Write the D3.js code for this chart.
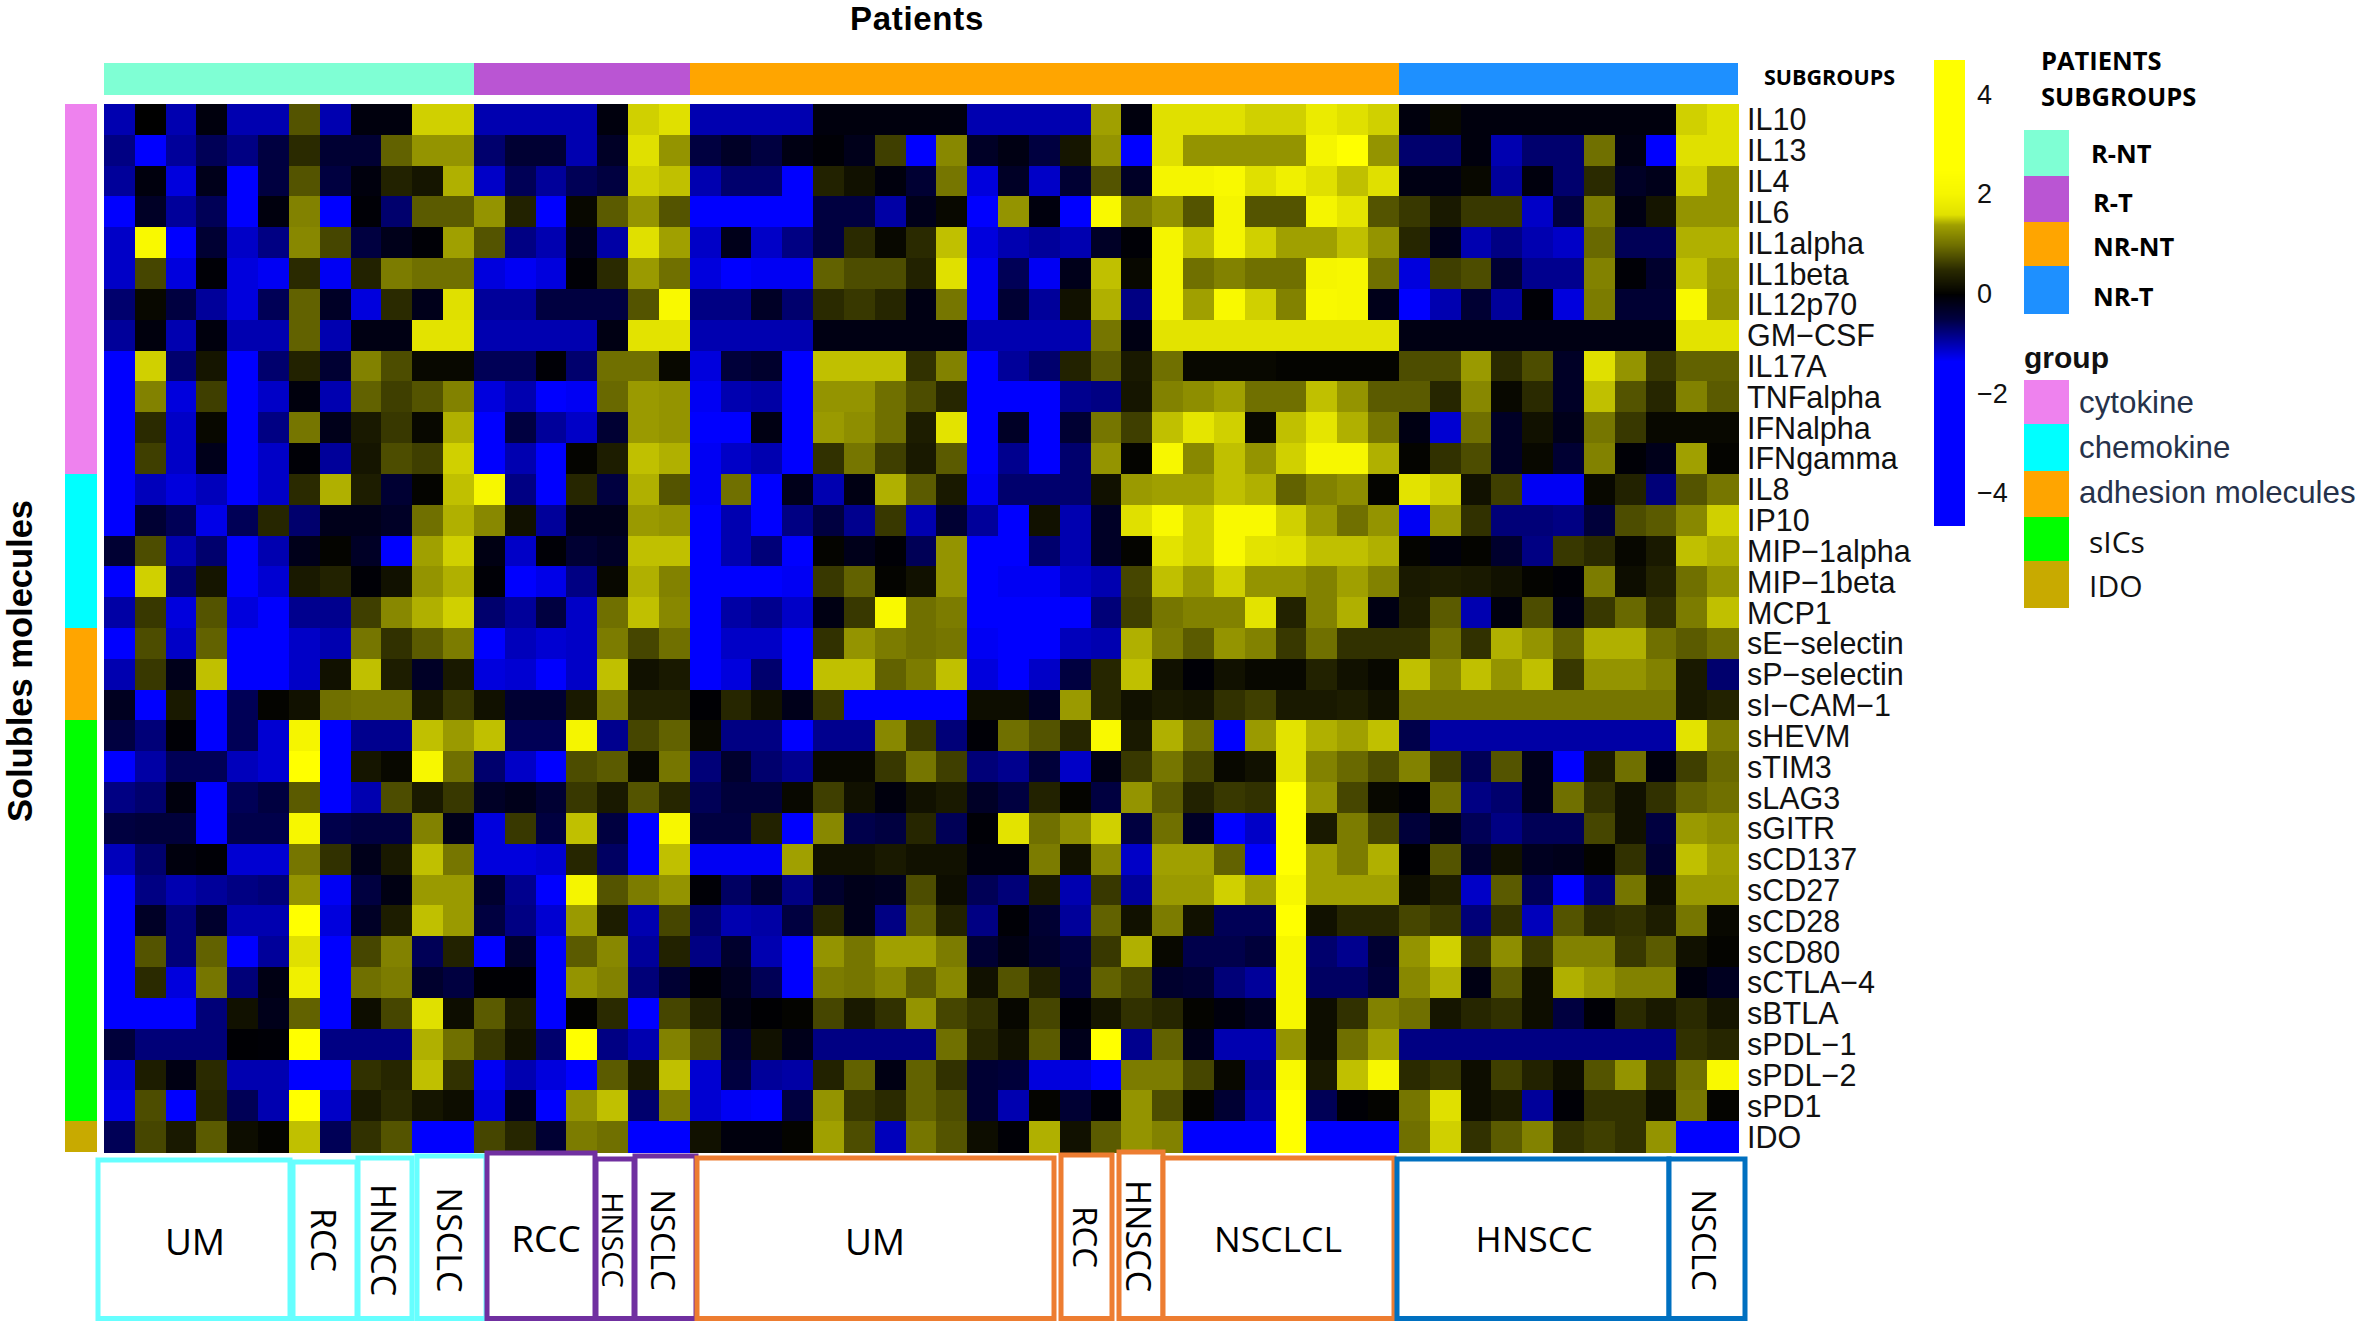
<!DOCTYPE html>
<html><head><meta charset="utf-8">
<script src="https://cdn.jsdelivr.net/npm/d3@7"></script>
<style>html,body{margin:0;padding:0;background:#fff}svg{display:block}</style>
</head><body><svg id="c" width="2362" height="1321"></svg>
<script>
const molecules=["IL10","IL13","IL4","IL6","IL1alpha","IL1beta","IL12p70","GM−CSF","IL17A","TNFalpha","IFNalpha","IFNgamma","IL8","IP10","MIP−1alpha","MIP−1beta","MCP1","sE−selectin","sP−selectin","sI−CAM−1","sHEVM","sTIM3","sLAG3","sGITR","sCD137","sCD27","sCD28","sCD80","sCTLA−4","sBTLA","sPDL−1","sPDL−2","sPD1","IDO"];
const values=[
[-1,0,-1,-.1,-1,-1,.8,-1,-.1,-.1,1.55,1.55, -1,-1,-1,-1,-.1,1.55,1.6, -1,-1,-1,-1,-.1,-.1,-.1,-.1,-.1,-1,-1,-1,-1,1.4,-.1,1.6,1.6,1.6,1.55,1.55,1.8,1.6,1.55, -.1,.1,-.1,-.1,-.1,-.1,-.1,-.1,-.1,1.55,1.6],
[-.8,-1.4,-.9,-.6,-.8,-.5,.5,-.4,-.4,.9,1.3,1.3, -.7,-.4,-.4,-1,-.3,1.6,1.3, -.5,-.3,-.5,-.15,-.05,-.2,.65,-1.4,1.2,-.3,-.15,-.5,.25,1.3,-1.4,1.6,1.3,1.3,1.3,1.3,2,2.5,1.3, -.7,-.7,-.1,-1,-.7,-.7,1,-.15,-1.4,1.6,1.6],
[-.9,-.1,-1.2,-.2,-1.4,-.5,.8,-.5,-.1,.4,.25,1.45, -1.1,-.6,-.9,-.6,-.5,1.55,1.5, -1,-.7,-.7,-1.4,.4,.2,-.1,-.4,1.05,-1.2,-.3,-1.1,-.4,.8,-.3,2,2,2.2,1.6,1.9,1.6,1.5,1.6, -.15,-.15,.1,-.9,-.1,-.7,.5,-.3,-.2,1.55,1.3],
[-1.4,-.3,-.9,-.6,-1.4,-.1,1.15,-1.4,-.05,-.7,.85,.85, 1.3,.4,-1.4,.1,.85,1.3,.8, -1.4,-1.4,-1.4,-1.4,-.5,-.5,-.95,-.2,.1,-1.4,1.3,-.1,-1.4,2.2,1.1,1.3,.8,2,.8,.8,2,1.7,.8, .6,.3,.6,.6,-1.1,-.5,1.1,-.15,.25,1.3,1.3],
[-1.1,2.2,-1.4,-.4,-1.1,-.8,1.2,.7,-.5,-.2,-.05,1.4, .8,-.8,-1,-.2,-.95,1.6,1.4, -1.1,-.2,-1.1,-.8,-.5,.5,.1,.5,1.5,-1.2,-1,-.9,-1,-.3,-.05,2,1.5,2,1.55,1.4,1.4,1.5,1.3, .45,-.2,-1,-.8,-1,-1.1,.95,-.6,-.6,1.45,1.45],
[-1.1,.7,-1.2,-.05,-1.2,-1.3,.5,-1.3,.4,1.1,1,1, -1.2,-1.3,-1.2,-.05,.5,1.35,1, -1.2,-1.4,-1.3,-1.3,.9,.75,.75,.4,1.6,-1.3,-.6,-1.3,-.2,1.5,.1,2,1,1.15,1,1,2,2.1,1, -1.2,.65,.75,-.4,-.85,-.85,1.15,-.05,-.35,1.5,1.35],
[-.7,.1,-.5,-.9,-1.2,-.6,.9,-.3,-1.2,.5,-.2,1.6, -.9,-.9,-.5,-.5,-.5,.8,2.2, -.8,-.8,-.3,-.7,.5,.6,.45,-.15,1.05,-1.3,-.4,-.9,.2,1.45,-.8,2,1.4,2.2,1.55,1.15,2.2,2.1,-.2, -1.4,-1,-.4,-.9,-.05,-1.2,1.1,-.4,-.4,2.2,1.3],
[-.9,-.1,-1,-.1,-1,-1,.9,-1,-.15,-.15,1.65,1.65, -1,-1,-1,-1,-.15,1.65,1.65, -1,-1,-1,-1,-.15,-.15,-.15,-.15,-.15,-1,-1,-1,-1,1.05,-.15,1.65,1.65,1.65,1.65,1.65,1.65,1.65,1.65, -.15,-.15,-.15,-.15,-.15,-.15,-.15,-.15,-.15,1.65,1.65],
[-1.4,1.55,-.7,.25,-1.4,-.7,.4,-.4,1.15,.75,.1,.1, -.6,-.6,-.05,-.7,1,1,.1, -1.2,-.45,-.35,-1.4,1.5,1.5,1.5,.55,1.15,-1.4,-.9,-.7,.4,.85,.3,1,.1,.1,.1,.05,.05,.05,.05, .75,.75,1.35,.5,.75,-.3,1.6,1.3,.6,.9,.9],
[-1.4,1.15,-1.2,.65,-1.4,-1.1,-.1,-1,.9,.65,.8,1.15, -1.2,-1,-1.4,-1.3,.95,1.35,1.3, -1.3,-1,-.95,-1.4,1.3,1.3,1,.75,.45,-1.4,-1.4,-1.4,-.85,-.8,.25,1.15,1.25,1.4,1,1,1.5,1.3,.85, .85,.45,1.2,.1,.5,-.3,1.5,.8,.45,1.15,.85],
[-1.4,.5,-1.1,.1,-1.4,-.8,1.05,-.2,.3,.6,.1,1.45, -1.4,-.5,-.9,-1.1,-.4,1.35,1.3, -1.4,-1.4,-.15,-1.4,1.35,1.25,1,.35,1.65,-1.4,-.3,-1.4,-.4,1.05,.65,1.5,1.7,1.55,.1,1.5,1.7,1.45,1.05, -.15,-1.15,1,-.3,.2,-.2,1.05,.6,.1,.1,.1],
[-1.4,.65,-1.1,-.2,-1.4,-1.1,-.05,-.9,.25,.75,.65,1.55, -1.4,-1,-1.4,.05,.35,1.5,1.45, -1.3,-1.1,-1,-1.4,.55,1.05,.65,.3,.85,-1.4,-.85,-1.4,-.7,1.3,.05,2.1,1.2,1.5,1.3,1.55,2.1,2.1,1.45, .05,.55,.75,-.3,.1,-.4,1.15,-.05,-.2,1.4,.05],
[-1.4,-1.05,-1.2,-1.05,-1.4,-1.1,.5,1.45,.35,-.4,.05,1.5, 2.1,-.8,-1.4,.45,-.5,1.45,.8, -1.3,1,-1.4,-.2,-1,-.15,1.45,.85,.3,-1.3,-.7,-.7,-.7,.2,1.35,1.4,1.4,1.5,1.45,.9,1.15,1.25,.05, 1.65,1.55,.2,.65,-1.3,-1.3,.1,.4,-.75,.8,1.05],
[-1.4,-.4,-.6,-1.25,-.6,.45,-.7,-.2,-.2,-.3,1,1.45, 1.2,.2,-.9,-.2,-.2,1.35,1.3, -1.4,-1,-1.4,-.8,-.5,-.85,.6,-1,-.4,-.9,-1.4,.2,-1,-.3,1.6,2.2,1.55,2.2,2.2,1.55,1.35,1,1.3, -1.3,1.35,.55,-.75,-.75,-.8,-.45,.75,.85,1.2,1.55],
[-.4,.75,-1,-.7,-1.4,-1,-.2,.05,-.3,-1.4,1.4,1.55, -.15,-1.1,-.05,-.4,-.3,1.5,1.5, -1.4,-1,-.75,-1.4,.05,-.2,-.05,-.6,1.3,-1.4,-1.4,-.7,-1,-.3,.05,1.65,1.55,2.2,1.65,1.6,1.5,1.5,1.45, .05,-.1,.05,-.35,-.8,.6,.5,.08,.3,1.5,1.45],
[-1.4,1.55,-.7,.25,-1.4,-1.15,.3,.4,-.05,.2,1.3,1.45, -.05,-1.35,-1.25,-.8,.1,1.45,1.15, -1.4,-1.35,-1.4,-1.3,.6,.9,.05,.2,1.3,-1.4,-1.3,-1.3,-1.1,-1,.7,1.5,1.35,1.55,1.3,1.3,1.15,1.4,1.15, .3,.35,.3,.2,.05,-.05,1.1,.15,.4,1,1.3],
[-.95,.6,-1.2,.8,-1.2,-1.4,-.85,-.85,.65,1.2,1.45,1.55, -.7,-.9,-.5,-1.1,1,1.5,1.2, -1.4,-.95,-.85,-1.1,-.15,.6,2.2,1,1.1,-1.4,-1.4,-1.4,-1.4,-.75,.65,1.05,1.15,1.15,1.65,.4,1.15,1.45,-.15, .35,.85,-1,-.1,.75,-.15,.6,.95,.55,1.1,1.5],
[-1.4,.75,-1.1,.9,-1.4,-1.35,-1.1,-1,1.05,.55,.85,1.1, -1.4,-1.05,-1.15,-1.1,1.1,.7,1, -1.4,-1.1,-1.1,-1.4,.55,1.3,1.1,1,1.05,-1.3,-1.35,-1.35,-1.05,-1,1.45,1.1,.85,1.3,1.15,.6,1,.55,.55, .55,1,.55,1.45,1.3,.9,1.45,1.45,1,.85,1],
[-1,.6,-.2,1.5,-1.4,-1.4,-1.1,.2,1.5,.35,-.3,.3, -1.2,-1.15,-1.4,-1.1,1.5,.2,.3, -1.4,-1.2,-.7,-1.4,1.5,1.5,.9,1.1,1.5,-1.2,-1.4,-1.1,-.5,.45,1.5,.2,-.05,.2,.1,.1,.4,.2,.1, 1.5,1.2,1.5,1.3,1.5,.6,1.3,1.3,1.15,.3,-.7],
[-.25,-1.4,.3,-1.4,-.6,.05,.2,1,1.05,1.05,.3,.6, .2,-.4,-.4,.3,1.1,.4,.4, -.03,.45,.2,-.2,.6,-1.4,-1.4,-1.4,-1.4,.15,.15,-.3,1.35,.45,.2,.3,.25,.55,.65,.3,.3,.35,.2, 1.05,1.05,1.05,1.05,1.05,1.05,1.05,1.05,1.05,.3,.4],
[-.5,-.75,-.05,-1.4,-.6,-1.15,2,-1.4,-.85,-.85,1.5,1.35, 1.5,-.6,-.6,2,-.85,.7,.9, .1,-.8,-.8,-1.4,-.85,-.85,1.2,.6,-.75,-.05,1,.8,.45,2.2,.3,1.45,1,-1.4,1.35,1.65,1.45,1.4,1.5, -.55,-.95,-.95,-.95,-.95,-.95,-.95,-.95,-.95,1.65,1.1],
[-1.4,-.95,-.6,-.6,-1.05,-1.15,2.5,-1.35,.25,.1,2.1,1, -.7,-1.1,-1.35,.75,.85,.1,1.05, -.75,-.35,-.7,-.85,.1,.1,.6,1.05,.65,-.75,-.85,-.45,-1.1,-.15,.6,1.05,.7,.1,.2,1.65,1.15,.95,.75, 1.15,.65,-.6,.8,-.2,-1.4,.3,1,-.1,.65,.95],
[-.8,-.7,-.1,-1.4,-.6,-.5,.85,-1.4,-1,.75,.3,.6, -.3,-.2,-.4,.6,.3,.8,.45, -.6,-.45,-.45,.1,.65,.2,-.1,.2,.3,-.3,-.5,.4,.05,-.5,1.3,.85,.4,.6,.55,2.5,1.3,.7,.1, -.05,1,-.8,-.7,-.2,1,.55,.2,.55,.9,1],
[-.5,-.45,-.45,-1.4,-.55,-.55,2.1,-.55,-.5,-.5,1.15,-.2, -1.2,.6,-.5,1.5,-.5,-1.4,2.1, -.5,-.5,.4,-1.4,1.2,-.55,-.5,.45,-.6,-.05,1.65,1,1.25,1.55,-.5,1,-.3,-1.4,-1.1,2.5,.3,1.1,.7, -.45,-.2,-.6,-.8,-.6,-.6,.7,.2,-.5,1.35,1.25],
[-1.05,-.7,-.1,-.05,-1.15,-1.15,1.05,.55,-.2,.3,1.5,1.05, -1.2,-1.2,-1.15,.45,-.65,-1.4,1.5, -1.3,-1.3,-1.3,1.4,.2,.2,.3,.2,.2,-.1,-.1,1.1,.2,1.2,-1.1,1.4,1.4,.9,-1.4,2.5,1.4,1.1,1.45, -.03,.8,-.35,.2,-.25,-.2,.05,.55,-.4,1.5,1.4],
[-1.4,-.8,-1,-.9,-.8,-.75,1.3,-1.3,-.5,-.15,1.35,1.35, -.35,-.85,-1.4,2,.8,1.1,1.3, -.05,-.65,-.35,-.8,-.35,-.2,-.25,.75,.15,-.6,-.75,.3,-1,.6,-.9,1.35,1.35,1.55,1.4,2.1,1.4,1.4,1.4, .15,.35,-1.1,.85,-.6,-1.4,-.7,1.05,.15,1.35,1.35],
[-1.4,-.3,-.75,-.35,-1,-1,2.5,-1.2,-.3,.35,1.5,1.35, -.5,-.8,-1.15,1.35,.35,-1,.7, -.7,-1,-.95,-.5,.45,-.2,-.8,.9,.4,-.8,-.05,-.4,-.9,.9,.2,1.1,.2,-.6,-.6,2.5,.2,.45,.45, .7,.6,-.75,.55,-1.05,.8,.5,.55,.35,1.05,.1],
[-1.4,.8,-.75,.9,-1.4,-.9,1.6,-1.4,.7,1.15,-.6,.4, -1.4,-.35,-1.4,.85,1.2,-.9,.4, -.8,-.35,-1,-1.4,1.3,1.05,1.4,1.4,1.1,-.4,-.15,-.35,-.5,.6,1.45,.1,-.55,-.55,-.45,2.1,-.7,-.85,-.4, 1.3,1.55,.6,1.25,.6,1.15,1.15,.6,.85,.2,.05],
[-1.4,.5,-1.2,1.05,-.75,-.15,1.9,-1.4,1,1.1,-.35,-.5, -.03,-.03,-1.4,1.3,1.15,-.75,-.4, -.05,-.25,-.6,-1.4,1.1,1.05,1.2,.85,1.2,.2,.8,.4,-.45,.9,.7,-.35,-.4,-.75,-.9,2.1,-.65,-.65,-.45, 1.2,1.45,-.15,.85,.15,1.45,1.35,1.15,1.15,-.1,-.25],
[-1.4,-1.4,-1.4,-.75,.2,-.2,.9,-1.4,.15,.7,1.6,.15, .85,.35,-1.4,.02,.5,-1.4,.7, .4,-.15,-.02,.05,.7,.3,.55,1.3,.7,.55,.08,.7,-.05,.25,.55,.45,.05,-.1,-.25,2.1,.15,.55,1.15, 1,.25,.45,.55,.15,-.5,-.05,.5,.3,.5,.25],
[-.45,-.75,-.75,-.75,-.03,-.05,2.6,-.8,-.8,-.8,1.45,1, .6,.2,-.7,2.6,-.8,-1,1.15, .75,-.4,.2,-.2,-.8,-.8,-.8,-.8,1,.45,.2,.85,-.2,2.6,-.85,.9,-.2,-1,-1,1.3,.15,1,1.4, -.8,-.8,-.8,-.8,-.8,-.8,-.8,-.8,-.8,.55,.45],
[-1.15,.35,-.15,.5,-1,-1,-1.4,-1.4,.55,.45,1.5,.55, -1.3,-1,-1.2,-1.4,.85,.3,1.5, -1.15,-.5,-.9,-.95,.4,.9,-.15,.9,.55,-.4,-.45,-1.2,-1.2,-1.4,1.1,1.1,.7,.1,-.85,2.2,.3,1.5,2.1, .5,.6,.15,.65,.4,.15,.8,1.3,.55,1,2.2],
[-1.25,.75,-1.4,.45,-.6,-1,2.5,-1.1,.3,.5,.25,.15, -1.2,-.25,-1.4,1.3,1.5,-.7,1.1, -1.15,-1.3,-1.4,-.5,1.3,.6,.5,.9,.75,-.4,-1,.05,-.4,-.05,1.3,.75,.05,-.4,-.95,2.5,-.6,-.05,.05, 1.05,1.6,.15,.3,-.9,-.05,.55,.55,.15,1.05,.05],
[-.6,.7,.3,.85,.15,.05,1.5,-.6,.55,.8,-1.4,-1.4, .7,.45,-.4,1.1,1,-1.4,-1.4, .2,-.1,-.1,.05,1.4,.75,-1.05,1.05,.8,.15,-.05,1.45,.2,.85,1.3,1.15,-1.4,-1.4,-1.4,2.5,-1.4,-1.4,-1.4, 1,1.55,.55,.85,1.15,.55,.65,.55,1.3,-1.4,-1.4]
];
const subgroupNames=["R-NT","R-T","NR-NT","NR-T"];
const subgroupCounts=[12,7,23,11];
const subgroupColors=["#7fffd4","#ba55d3","#ffa500","#1e90ff"];
const groupNames=["cytokine","chemokine","adhesion molecules","sICs","IDO"];
const groupCounts=[12,5,3,13,1];
const groupColors=["#ee82ee","#00ffff","#ffa500","#00ff00","#c8aa00"];
const colorTicks=[4,2,0,-2,-4];
const colorStops=[-4.65,-1.35,-1,-.5,0,.5,1,1.4,1.6,2,2.5,4.7];
const colorRange=["#0000ff","#0000ff","#0000b0","#000040","#000000","#2a2a00","#707000","#a0a000","#e0e000","#f5f500","#ffff00","#ffff00"];
const boxes=[
 {t:"UM",x0:98,x1:290,y0:1160,c:"#66ffff",r:0,tx:195,ty:1240,fs:37},
 {t:"RCC",x0:293,x1:357,y0:1162,c:"#66ffff",r:1,tx:324,ty:1240,fs:34},
 {t:"HNSCC",x0:358,x1:412,y0:1158,c:"#66ffff",r:1,tx:384,ty:1240,fs:34},
 {t:"NSCLC",x0:417,x1:486,y0:1156,c:"#66ffff",r:1,tx:450,ty:1240,fs:34},
 {t:"RCC",x0:487,x1:595,y0:1153,c:"#7030a0",r:0,tx:546,ty:1237,fs:37},
 {t:"HNSCC",x0:596,x1:634,y0:1159,c:"#7030a0",r:1,tx:613,ty:1240,fs:29},
 {t:"NSCLC",x0:635,x1:696,y0:1156,c:"#7030a0",r:1,tx:663,ty:1240,fs:33},
 {t:"UM",x0:697,x1:1054,y0:1158,c:"#ed7d31",r:0,tx:875,ty:1240,fs:37},
 {t:"RCC",x0:1061,x1:1112,y0:1155,c:"#ed7d31",r:1,tx:1085,ty:1237,fs:33},
 {t:"HNSCC",x0:1119,x1:1163,y0:1152,c:"#ed7d31",r:1,tx:1139,ty:1236,fs:34},
 {t:"NSCLCL",x0:1163,x1:1394,y0:1158,c:"#ed7d31",r:0,tx:1278,ty:1238,fs:35.5},
 {t:"HNSCC",x0:1397,x1:1669,y0:1159,c:"#0070c0",r:0,tx:1534,ty:1238,fs:35.5},
 {t:"NSCLC",x0:1669,x1:1745,y0:1159,c:"#0070c0",r:1,tx:1704,ty:1240,fs:33}
];
values.forEach((r,i)=>{if(r.length!==53||values.length!==34)throw new Error("row "+i+" has "+r.length);});

const svg=d3.select("#c");
const color=d3.scaleLinear().domain(colorStops).range(colorRange).clamp(true);
const x=d3.scaleBand().domain(d3.range(53)).range([104,1738]);
const y=d3.scaleBand().domain(molecules).range([104,1152]);
const OS='"Open Sans",sans-serif', LS='"Liberation Sans",Arial,sans-serif';

// heatmap cells
svg.append("g").attr("shape-rendering","crispEdges").selectAll("g").data(values).join("g")
 .each(function(row,i){
  d3.select(this).selectAll("rect").data(row).join("rect")
   .attr("x",(d,j)=>x(j)).attr("y",y(molecules[i])).attr("width",x.bandwidth()+.5).attr("height",y.bandwidth()+.5)
   .attr("fill",d=>color(d));
 });

// column annotation
let acc=0;
const colAnn=subgroupCounts.map((n,i)=>{const o={s:acc,n,c:subgroupColors[i]};acc+=n;return o;});
svg.append("g").attr("shape-rendering","crispEdges").selectAll("rect").data(colAnn).join("rect")
 .attr("x",d=>x(d.s)).attr("y",63).attr("width",d=>x.bandwidth()*d.n).attr("height",32).attr("fill",d=>d.c);
// row annotation
acc=0;
const rowAnn=groupCounts.map((n,i)=>{const o={s:acc,n,c:groupColors[i]};acc+=n;return o;});
svg.append("g").attr("shape-rendering","crispEdges").selectAll("rect").data(rowAnn).join("rect")
 .attr("x",65).attr("y",d=>y(molecules[d.s])).attr("width",31.5).attr("height",d=>y.bandwidth()*d.n).attr("fill",d=>d.c);

// row labels
svg.append("g").selectAll("text").data(molecules).join("text")
 .attr("x",1747).attr("y",d=>y(d)+y.bandwidth()/2).attr("dy","0.36em")
 .attr("font-family",LS).attr("font-size",30.5).attr("fill","#111").text(d=>d);

// titles
const txt=(s,x0,y0,fs,fam,w,fill,anchor)=>svg.append("text").attr("x",x0).attr("y",y0).attr("font-size",fs)
  .attr("font-family",fam).attr("font-weight",w||400).attr("fill",fill||"#000").attr("text-anchor",anchor||"start")
  .attr("dominant-baseline","central").text(s);
svg.append("text").attr("x",917).attr("y",30).attr("text-anchor","middle").attr("font-family",LS)
 .attr("font-weight",700).attr("font-size",33).attr("letter-spacing",.7).text("Patients");
txt("SUBGROUPS",1764,76,21.5,OS,700);
svg.append("text").attr("transform","translate(32,661) rotate(-90)").attr("text-anchor","middle")
 .attr("font-family",LS).attr("font-weight",700).attr("font-size",34.5).text("Solubles molecules");

// colour bar
const cy=d3.scaleLinear().domain([0,4]).range([294,94.6]);
const barVals=d3.range(4.69,-4.65,-.02);
svg.append("g").attr("shape-rendering","crispEdges").selectAll("rect").data(barVals).join("rect")
 .attr("x",1934).attr("width",31).attr("y",d=>cy(d)).attr("height",Math.abs(cy(0)-cy(.02))+.6).attr("fill",d=>color(d));
svg.append("g").selectAll("text").data(colorTicks).join("text")
 .attr("x",1977).attr("y",d=>cy(d)).attr("dominant-baseline","central")
 .attr("font-family",LS).attr("font-size",27).attr("fill","#111")
 .text(d=>d<0?"−"+Math.abs(d):d);

// subgroup legend
txt("PATIENTS",2041,60,25.5,OS,700);
txt("SUBGROUPS",2041,96,25.5,OS,700);
const sgTop=[130,176,222,266], sgBot=[176,222,266,313.5];
const sgX=[2091,2093,2093,2093], sgY=[152.5,202,245.5,295.5];
svg.append("g").attr("shape-rendering","crispEdges").selectAll("rect").data(subgroupColors).join("rect")
 .attr("x",2024).attr("width",45).attr("y",(d,i)=>sgTop[i]).attr("height",(d,i)=>sgBot[i]-sgTop[i]).attr("fill",d=>d);
subgroupNames.forEach((s,i)=>txt(s,sgX[i],sgY[i],25.5,OS,700));

// group legend
txt("group",2024,357.5,30,LS,700,"#111");
const gTop=[380,424,470.5,516.5,561], gBot=[424,470.5,516.5,561,608];
const gX=[2079,2079,2079,2089,2089], gY=[402,447.5,492.5,541,585];
svg.append("g").attr("shape-rendering","crispEdges").selectAll("rect").data(groupColors).join("rect")
 .attr("x",2024).attr("width",45).attr("y",(d,i)=>gTop[i]).attr("height",(d,i)=>gBot[i]-gTop[i]).attr("fill",d=>d);
groupNames.forEach((s,i)=>{
  if(i<3) txt(s,gX[i],gY[i],31.3,LS,400,"#26324a");
  else txt(s,gX[i],gY[i],30,OS,400,"#111");
});

// cancer-type boxes
const bg=svg.append("g");
bg.selectAll("rect").data(boxes).join("rect")
 .attr("x",d=>d.x0).attr("y",d=>d.y0).attr("width",d=>d.x1-d.x0).attr("height",d=>1318.5-d.y0)
 .attr("fill","#fff").attr("stroke",d=>d.c).attr("stroke-width",5);
bg.selectAll("text").data(boxes).join("text")
 .attr("transform",d=>`translate(${d.tx},${d.ty})`+(d.r?" rotate(90)":""))
 .attr("text-anchor","middle").attr("dominant-baseline","central")
 .attr("font-family",OS).attr("font-size",d=>d.fs).attr("fill","#000").text(d=>d.t);
</script></body></html>
